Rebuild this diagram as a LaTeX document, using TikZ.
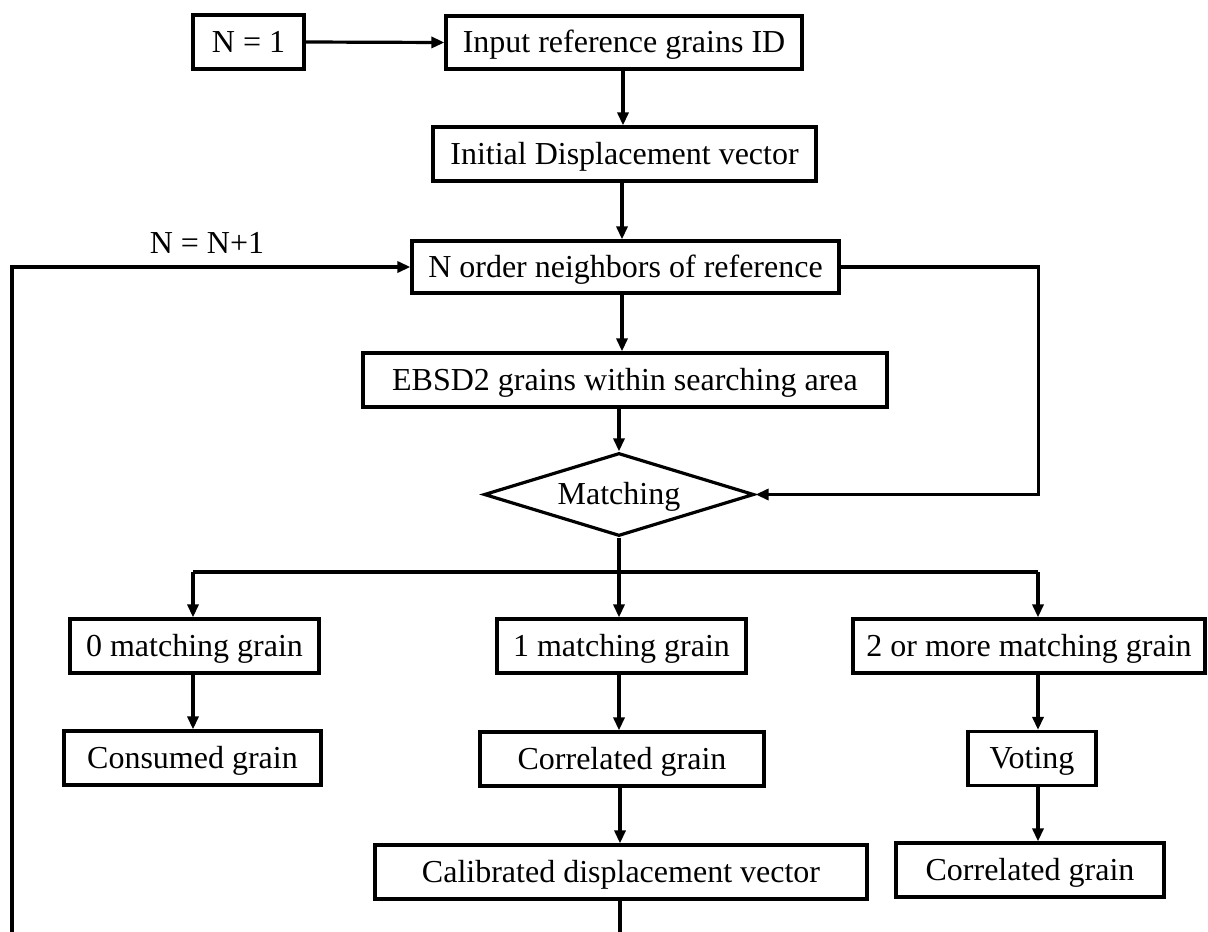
\documentclass[tikz,border=0pt]{standalone}
\usepackage{fontspec}
\setmainfont{Liberation Serif}
\usetikzlibrary{arrows.meta,shapes.geometric}
\begin{document}
\begin{tikzpicture}[x=1pt,y=-1pt,
  box/.style={draw,line width=3.2pt,inner sep=0pt,minimum height=54pt,
    font=\fontsize{32}{38}\selectfont,text height=24pt,text depth=4pt},
  arr/.style={line width=3.2pt,-{Triangle[length=13pt,width=11pt]}},
  ln/.style={line width=3.2pt}]
\useasboundingbox[fill=white] (0,0) rectangle (1208,932);
\node[box,minimum width=111pt] (n1) at (248.5,42) {N = 1};
\node[box,minimum width=356pt,minimum height=53pt] (input) at (624,42.5) {Input reference grains ID};
\node[box,minimum width=383pt] (init) at (624.5,154) {Initial Displacement vector};
\node[box,minimum width=427pt,minimum height=52pt] (nord) at (625.5,267) {N order neighbors of reference};
\node[box,minimum width=524pt] (ebsd) at (625,380) {EBSD2 grains within searching area};
\node[box,shape=diamond,aspect=3.25,minimum width=270pt,minimum height=83pt] (dia) at (619,494.5) {Matching};
\node[box,minimum width=249pt] (zero) at (194.5,646) {0 matching grain};
\node[box,minimum width=249pt] (one) at (621.5,646) {1 matching grain};
\node[box,minimum width=352pt] (two) at (1029,646) {2 or more matching grain};
\node[box,minimum width=257pt] (cons) at (192.5,758) {Consumed grain};
\node[box,minimum width=284pt] (corr1) at (622,759) {Correlated grain};
\node[box,minimum width=128pt] (vote) at (1032,758.5) {Voting};
\node[box,minimum width=492pt] (calib) at (621,872) {Calibrated displacement vector};
\node[box,minimum width=268pt] (corr2) at (1030,870) {Correlated grain};
\node[font=\fontsize{32}{38}\selectfont,inner sep=0pt] (lbl) at (207,243) {N = N+1};
\coordinate (lb) at (12,934);
\coordinate (bus) at (619,572);
\coordinate (cb) at (620,934);
% connectors
\draw[arr] (n1.east) -- (input.west);
\draw[arr] (input.south -| 623,0) -- (init.north -| 623,0);
\draw[arr] (init.south -| 622,0) -- (nord.north -| 622,0);
\draw[arr] (nord.south -| 622,0) -- (ebsd.north -| 622,0);
\draw[arr] (ebsd.south -| dia.north) -- (dia.north);
\draw[arr] (nord.east) -- ++(198,0) |- (dia.east);
\draw[arr] (lb) |- (nord.west);
\draw[ln] (dia.south) -- (bus);
\draw[ln] (193,572) -- (1038,572);
\draw[arr] (bus -| 193,0) -- (zero.north -| 193,0);
\draw[arr] (bus) -- (one.north -| bus);
\draw[arr] (bus -| 1038,0) -- (two.north -| 1038,0);
\draw[arr] (zero.south -| 193,0) -- (cons.north -| 193,0);
\draw[arr] (one.south -| 619,0) -- (corr1.north -| 619,0);
\draw[arr] (corr1.south -| 620,0) -- (calib.north -| 620,0);
\draw[arr] (two.south -| 1038,0) -- (vote.north -| 1038,0);
\draw[arr] (vote.south -| 1038,0) -- (corr2.north -| 1038,0);
\draw[ln] (calib.south -| cb) -- (cb);
\end{tikzpicture}
\end{document}
